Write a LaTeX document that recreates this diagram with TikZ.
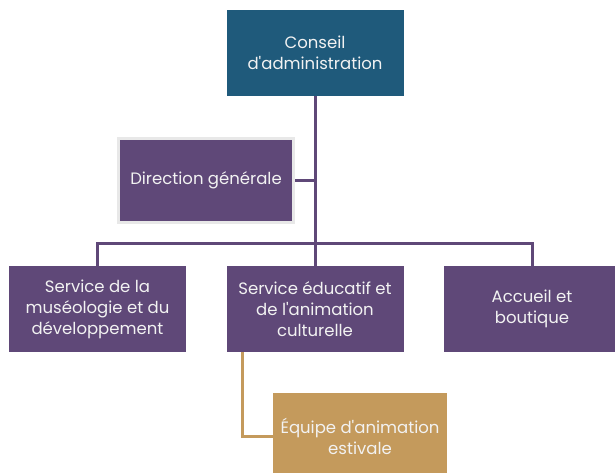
\documentclass[tikz,border=0pt]{standalone}
\usepackage{fontspec}
\setmainfont{Poppins}
\usetikzlibrary{positioning}

\definecolor{councilblue}{HTML}{1F5A7B}
\definecolor{servicepurple}{HTML}{5F4878}
\definecolor{teamgold}{HTML}{C49A5C}
\definecolor{boxtext}{HTML}{F2F2F2}

\begin{document}
\begin{tikzpicture}[x=1pt, y=-1pt,
    box/.style={rectangle, inner sep=1pt, align=center, text=boxtext,
        minimum width=177pt, minimum height=86pt,
        font=\fontsize{16.5}{21}\selectfont},
    bluebox/.style={box, fill=councilblue},
    purplebox/.style={box, fill=servicepurple},
    goldbox/.style={box, fill=teamgold, minimum width=174pt},
    purpleline/.style={draw=servicepurple, line width=3pt},
    goldline/.style={draw=teamgold, line width=3pt}]
    \useasboundingbox (0,0) rectangle (615,472);
    % top level
    \node [bluebox] (conseil) at (315,53) {Conseil\\d\textquotesingle administration};
    \node [purplebox, draw=gray!18, line width=3pt, minimum width=175pt,
        minimum height=84pt] (direction) at (206,180.5) {Direction générale};
    \coordinate (split) at (315,243);
    % services
    \node [purplebox] (museo) at (97.5,309) {Service de la\\muséologie et du\\développement};
    \node [purplebox] (educ) at (315,309) {Service éducatif et\\de l\textquotesingle animation\\culturelle};
    \node [purplebox] (accueil) at (532,309) {Accueil et\\boutique};
    % summer team
    \node [goldbox] (equipe) at (360,436) {Équipe d\textquotesingle animation\\estivale};
    % connectors
    \draw [purpleline] (conseil.south) -- (split);
    \draw [purpleline] (direction.east) -- (direction.east -| split);
    \draw [purpleline] (museo.north) |- (split) -| (accueil.north);
    \draw [purpleline] (split) -- (educ.north);
    \draw [goldline] ([xshift=16pt]educ.south west) |- (equipe.west);
\end{tikzpicture}
\end{document}
